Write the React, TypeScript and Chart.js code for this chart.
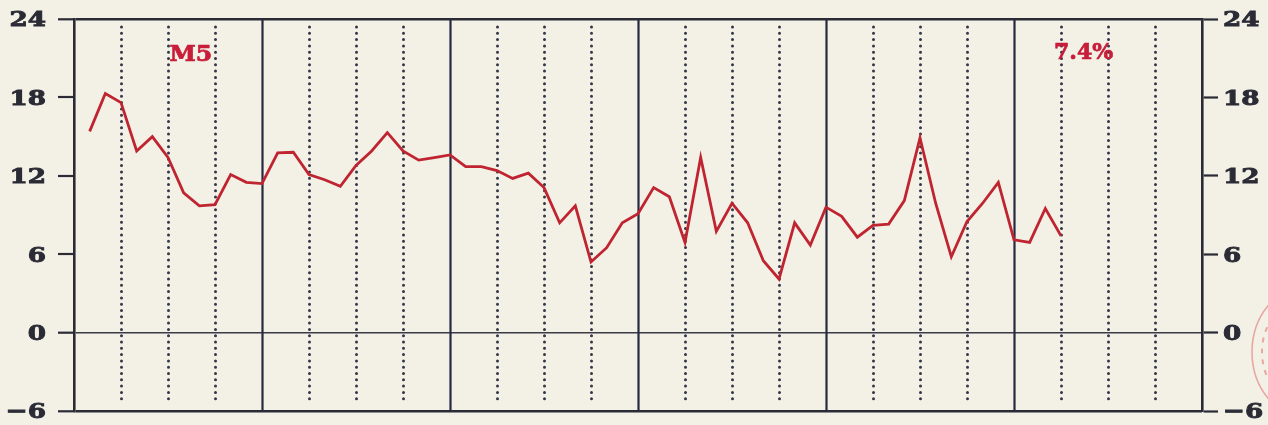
import React, { useEffect, useRef } from "react";
import { Chart, registerables } from "chart.js";

Chart.register(...registerables);

// Monthly growth rate (%), months 1..63 of a 72-month (6-year) span
const firstMonth = 1;
const values = [
  15.4, 18.3, 17.6, 13.9, 15.0, 13.4, 10.7, 9.7, 9.8, 12.1, 11.5, 11.4,
  13.75, 13.8, 12.1, 11.7, 11.2, 12.8, 13.9, 15.3, 13.9, 13.2, 13.4, 13.6,
  12.7, 12.7, 12.4, 11.8, 12.2, 11.1, 8.4, 9.7, 5.4, 6.5, 8.4, 9.1,
  11.1, 10.4, 6.9, 13.4, 7.75, 9.9, 8.4, 5.5, 4.1, 8.4, 6.7, 9.6,
  8.9, 7.3, 8.2, 8.3, 10.1, 14.9, 9.9, 5.8, 8.5, 9.9, 11.5, 7.1,
  6.9, 9.5, 7.4,
];
const totalMonths = 72;
const yTicks = [-6, 0, 6, 12, 18, 24];
const seriesLabel = "M5";
const lastValueLabel = "7.4%";

const BG = "#f3f1e6";
const INK = "#2a2b35";
const RED = "#bf2430";
const TEXT_RED = "#c81e3a";

const fmtTick = (v: number) => (v < 0 ? "\u2212" + Math.abs(v) : String(v));

const decorPlugin = {
  id: "decor",
  beforeDraw(chart: any) {
    const { ctx, width, height } = chart;
    ctx.save();
    ctx.fillStyle = BG;
    ctx.fillRect(0, 0, width, height);
    ctx.restore();
  },
  beforeDatasetsDraw(chart: any) {
    const { ctx, chartArea } = chart;
    const xs = chart.scales.x;
    ctx.save();
    // quarter dotted lines and year solid lines
    for (let m = 3; m < totalMonths; m += 3) {
      const px = Math.round(xs.getPixelForValue(m)) + 0.5;
      if (m % 12 === 0) {
        ctx.setLineDash([]);
        ctx.lineCap = "butt";
        ctx.lineWidth = 2.2;
        ctx.strokeStyle = "#252a40";
        ctx.beginPath();
        ctx.moveTo(px, chartArea.top);
        ctx.lineTo(px, chartArea.bottom);
        ctx.stroke();
      } else {
        ctx.setLineDash([0, 6.3]);
        ctx.lineCap = "round";
        ctx.lineWidth = 3;
        ctx.strokeStyle = "#34364a";
        ctx.beginPath();
        ctx.moveTo(px, chartArea.top + 8);
        ctx.lineTo(px, chartArea.bottom - 7);
        ctx.stroke();
      }
    }
    ctx.restore();
  },
  afterDraw(chart: any) {
    const { ctx } = chart;
    const xs = chart.scales.x;
    const ys = chart.scales.y;
    ctx.save();
    // axis labels (wide, heavy serif look)
    ctx.fillStyle = INK;
    ctx.strokeStyle = INK;
    ctx.lineWidth = 0.9;
    ctx.font = "bold 21px 'DejaVu Serif'";
    ctx.textBaseline = "middle";
    const leftX = chart.chartArea.left - 28;
    const rightX = chart.chartArea.right + 21;
    for (const v of yTicks) {
      const py = ys.getPixelForValue(v) + 2;
      const t = fmtTick(v);
      ctx.save();
      ctx.translate(leftX, py);
      ctx.scale(1.25, 1);
      ctx.textAlign = "right";
      ctx.fillText(t, 0, 0);
      ctx.strokeText(t, 0, 0);
      ctx.restore();
      ctx.save();
      ctx.translate(rightX, py);
      ctx.scale(1.25, 1);
      ctx.textAlign = "left";
      ctx.fillText(t, 0, 0);
      ctx.strokeText(t, 0, 0);
      ctx.restore();
    }
    // annotations
    ctx.fillStyle = TEXT_RED;
    ctx.strokeStyle = TEXT_RED;
    ctx.lineWidth = 0.7;
    ctx.font = "bold 22px 'DejaVu Serif'";
    ctx.textAlign = "left";
    ctx.save();
    ctx.translate(xs.getPixelForValue(6.1), ys.getPixelForValue(21.25));
    ctx.scale(1.08, 1);
    ctx.fillText(seriesLabel, 0, 0);
    ctx.strokeText(seriesLabel, 0, 0);
    ctx.restore();
    ctx.save();
    ctx.translate(xs.getPixelForValue(62.55), ys.getPixelForValue(21.4));
    ctx.scale(1.0, 1);
    ctx.fillText(lastValueLabel, 0, 0);
    ctx.strokeText(lastValueLabel, 0, 0);
    ctx.restore();
    // faint stamp at the right edge
    ctx.strokeStyle = "rgba(225,105,105,0.55)";
    ctx.lineWidth = 1.6;
    ctx.beginPath();
    ctx.ellipse(1312, 352, 60, 68, 0, 0, Math.PI * 2);
    ctx.stroke();
    ctx.setLineDash([5, 6]);
    ctx.lineWidth = 2;
    ctx.beginPath();
    ctx.ellipse(1312, 352, 50, 56, 0, 0, Math.PI * 2);
    ctx.stroke();
    ctx.restore();
  },
};

const hiddenTicks = { color: "rgba(0,0,0,0)", font: { size: 21 }, padding: 8 };

export default function App() {
  const canvasRef = useRef<HTMLCanvasElement | null>(null);

  useEffect(() => {
    if (!canvasRef.current) return;
    const data = values.map((v, i) => ({ x: firstMonth + i, y: v }));
    const gridColor = (c: any) => {
      const v = c.tick ? c.tick.value : null;
      if (v === 24 || v === -6) return INK;
      if (v === 0) return "#3a3b44";
      return "rgba(0,0,0,0)";
    };
    const gridWidth = (c: any) => {
      const v = c.tick ? c.tick.value : null;
      if (v === 24 || v === -6) return 2.6;
      if (v === 0) return 1.4;
      return 0;
    };
    const fitLeft = (s: any) => {
      s.width = 74;
      s.paddingTop = 0;
      s.paddingBottom = 0;
    };
    const fitRight = (s: any) => {
      s.width = 66;
      s.paddingTop = 0;
      s.paddingBottom = 0;
    };
    const setTicks = (s: any) => {
      s.ticks = yTicks.map((v) => ({ value: v }));
    };
    const chart = new Chart(canvasRef.current, {
      type: "line",
      data: {
        datasets: [
          {
            data,
            borderColor: RED,
            borderWidth: 2.8,
            pointRadius: 0,
            tension: 0,
            fill: false,
          },
        ],
      },
      plugins: [decorPlugin],
      options: {
        animation: false,
        responsive: false,
        maintainAspectRatio: false,
        layout: { padding: { top: 19, bottom: 14, left: 0, right: 0 } },
        plugins: { legend: { display: false }, tooltip: { enabled: false } },
        scales: {
          x: { type: "linear", min: 0, max: totalMonths, display: false },
          y: {
            position: "left",
            min: -6,
            max: 24,
            afterBuildTicks: setTicks,
            afterFit: fitLeft,
            ticks: hiddenTicks,
            grid: {
              color: gridColor,
              lineWidth: gridWidth,
              tickColor: INK,
              tickWidth: 2.2,
              tickLength: 16,
            },
            border: { display: true, color: INK, width: 2.6 },
          },
          y2: {
            position: "right",
            min: -6,
            max: 24,
            afterBuildTicks: setTicks,
            afterFit: fitRight,
            ticks: hiddenTicks,
            grid: {
              drawOnChartArea: false,
              tickColor: INK,
              tickWidth: 2.2,
              tickLength: 16,
            },
            border: { display: true, color: INK, width: 2.6 },
          },
        },
      },
    } as any);
    return () => chart.destroy();
  }, []);

  return (
    <div
      style={{
        position: "fixed",
        left: 0,
        top: 0,
        width: 1268,
        height: 425,
        background: BG,
      }}
    >
      <canvas ref={canvasRef} width={1268} height={425} style={{ display: "block" }} />
    </div>
  );
}
